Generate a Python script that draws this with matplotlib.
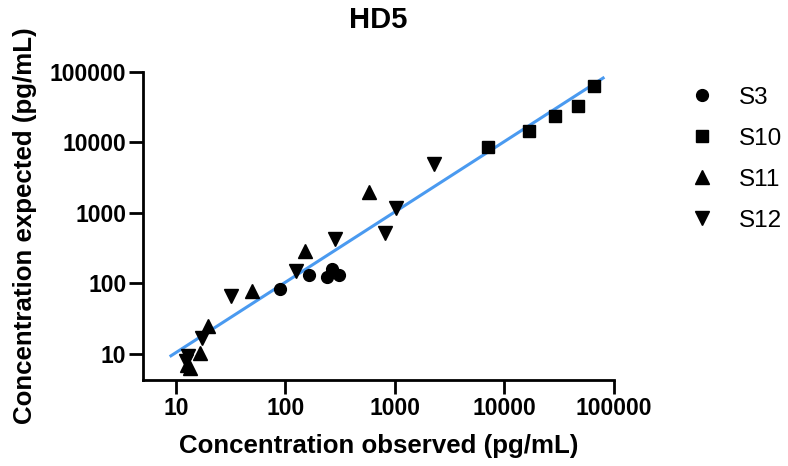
import numpy as np
import matplotlib
matplotlib.use("Agg")
import matplotlib.pyplot as plt

# values (pg/mL)
s3_obs = [89, 165, 241, 264, 310]
s3_exp = [83, 133, 123, 157, 129]

s10_obs = [7030, 16750, 28700, 46900, 66100]
s10_exp = [8440, 14500, 23300, 33000, 63400]

s11_obs = [582, 152, 49, 19.7, 16.6, 13.4, 12.6]
s11_exp = [1995, 285, 77, 25, 10.3, 6.3, 7.0]

s12_obs = [2270, 1014, 815, 283, 126, 31.5, 17.2, 12.9, 12.4]
s12_exp = [4880, 1156, 521, 419, 148, 67, 16.7, 9.2, 7.9]

# regression line end points
fit_x = [9.0, 79800]
fit_y = [9.4, 80900]

plt.rcParams['font.family'] = ['Liberation Sans', 'DejaVu Sans']

fig = plt.figure(figsize=(7.88, 4.66), dpi=100)
ax = fig.add_axes([0.1815, 0.1835, 0.5975, 0.663])

ax.plot(fit_x, fit_y, color="#4A9AF0", lw=2.2, zorder=1)

ax.plot(s3_obs, s3_exp, "o", color="black", ms=8.5, ls="none", label="S3", zorder=3)
ax.plot(s10_obs, s10_exp, "s", color="black", ms=9, ls="none", label="S10", zorder=3)
ax.plot(s11_obs, s11_exp, "^", color="black", ms=9.5, ls="none", label="S11", zorder=3)
ax.plot(s12_obs, s12_exp, "v", color="black", ms=9.5, ls="none", label="S12", zorder=3)

ax.set_xscale("log")
ax.set_yscale("log")
ax.set_xlim(5, 100000)
ax.set_ylim(4.2, 100000)

xt = [10, 100, 1000, 10000, 100000]
ax.set_xticks(xt)
ax.set_xticklabels([str(t) for t in xt])
ax.set_yticks(xt)
ax.set_yticklabels([str(t) for t in xt])
ax.minorticks_off()

for s in ["top", "right"]:
    ax.spines[s].set_visible(False)
for s in ["left", "bottom"]:
    ax.spines[s].set_linewidth(2)
ax.tick_params(width=2, length=10, pad=2, labelsize=16.5)
for lab in ax.get_xticklabels() + ax.get_yticklabels():
    lab.set_fontweight("bold")

ax.set_xlabel("Concentration observed (pg/mL)", fontsize=18.6, fontweight="bold", labelpad=10)
ax.set_ylabel("Concentration expected (pg/mL)", fontsize=18.6, fontweight="bold", labelpad=9)
ax.set_title("HD5", fontsize=21, fontweight="bold", pad=31)

fig.legend(loc="upper left", bbox_to_anchor=(0.876, 0.814), frameon=False,
           fontsize=17.5, handlelength=1, handletextpad=1.0, labelspacing=0.78,
           borderpad=0, borderaxespad=0, markerscale=1.0)

fig.savefig("out.png", dpi=100)
